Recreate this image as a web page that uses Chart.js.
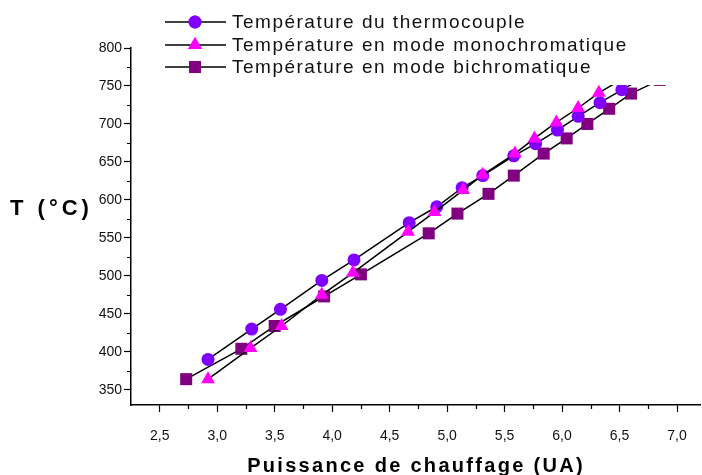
<!DOCTYPE html>
<html>
<head>
<meta charset="utf-8">
<script src="https://cdn.jsdelivr.net/npm/chart.js@4.4.1/dist/chart.umd.min.js"></script>
<style>
    html, body { margin: 0; padding: 0; background: #ffffff; }
    #wrap { width: 702px; height: 475px; }
</style>
</head>
<body>
<div id="wrap"><canvas id="tempChart" width="702" height="475"></canvas></div>
<script>
/* ============================
   Data
============================ */
const seriesLabels = [
    'Température du thermocouple',
    'Température en mode monochromatique',
    'Température en mode bichromatique'
];

// thermocouple (circles) - last point hidden behind the legend
const thermoX = [2.92, 3.30, 3.55, 3.91, 4.19, 4.67, 4.91, 5.13, 5.31, 5.58, 5.77, 5.96, 6.14, 6.33, 6.52, 6.72];
const thermoY = [390, 430, 456, 494, 521, 570, 591, 616, 632, 658, 674, 692, 710, 728, 745, 762];

// monochromatic (triangles)
const monoX = [2.92, 3.29, 3.56, 3.91, 4.18, 4.66, 4.89, 5.14, 5.31, 5.59, 5.76, 5.95, 6.14, 6.32, 6.50];
const monoY = [364, 405, 434, 475, 504, 558, 584, 613, 633, 661, 681, 702, 721, 741, 757];

// bichromatic (squares)
const biX = [2.73, 3.21, 3.50, 3.93, 4.25, 4.84, 5.09, 5.36, 5.58, 5.84, 6.04, 6.22, 6.41, 6.60, 6.85];
const biY = [364, 404, 434, 473, 502, 556, 582, 608, 632, 661, 681, 700, 720, 740, 758];

// axis ticks
const xTicks = [2.5, 3.0, 3.5, 4.0, 4.5, 5.0, 5.5, 6.0, 6.5, 7.0];
const xMinorTicks = [2.75, 3.25, 3.75, 4.25, 4.75, 5.25, 5.75, 6.25, 6.75];
const yTicks = [350, 400, 450, 500, 550, 600, 650, 700, 750, 800];
const yMinorTicks = [375, 425, 475, 525, 575, 625, 675, 725, 775];

/* ============================
   Styles
============================ */
const seriesColors = ['#8000ff', '#ff00ff', '#800080'];
const seriesShapes = ['circle', 'triangle', 'rect'];
const seriesRadius = [6.5, 8, 8.5];
const fontFamily = '"Liberation Sans", Arial, sans-serif';

function toPoints(xs, ys) {
    return xs.map((x, i) => ({ x: x, y: ys[i] }));
}

/* ============================
   Plugins: minor ticks, titles, legend
============================ */
const minorTicks = {
    id: 'minorTicks',
    afterDraw(chart) {
        const ctx = chart.ctx;
        const xs = chart.scales.x;
        const ys = chart.scales.y;
        ctx.save();
        ctx.strokeStyle = '#000';
        ctx.lineWidth = 1.2;
        ctx.beginPath();
        xMinorTicks.forEach(v => {
            const px = Math.round(xs.getPixelForValue(v)) + 0.5;
            ctx.moveTo(px, xs.top);
            ctx.lineTo(px, xs.top + 4);
        });
        yMinorTicks.forEach(v => {
            const py = Math.round(ys.getPixelForValue(v)) + 0.5;
            ctx.moveTo(ys.right, py);
            ctx.lineTo(ys.right - 4, py);
        });
        ctx.stroke();
        ctx.restore();
    }
};

const axisTitles = {
    id: 'axisTitles',
    afterDraw(chart) {
        const ctx = chart.ctx;
        ctx.save();
        ctx.fillStyle = '#000';
        ctx.font = 'bold 20px ' + fontFamily;
        ctx.letterSpacing = '2.3px';
        ctx.textAlign = 'center';
        ctx.textBaseline = 'middle';
        ctx.fillText('Puissance de chauffage (UA)', 416, 466);
        ctx.font = 'bold 22px ' + fontFamily;
        ctx.letterSpacing = '4px';
        ctx.textAlign = 'left';
        ctx.fillText('T (°C)', 10, 209);
        ctx.restore();
    }
};

const overlayLegend = {
    id: 'overlayLegend',
    afterDatasetsDraw(chart) {
        const ctx = chart.ctx;
        ctx.save();
        // white legend box hides the tops of the lines, as in the figure
        ctx.fillStyle = '#ffffff';
        ctx.fillRect(150, 0, 540, 85);
        const rowsY = [22, 45, 67];
        seriesLabels.forEach((label, i) => {
            const y = rowsY[i];
            ctx.strokeStyle = '#000';
            ctx.lineWidth = 1.5;
            ctx.beginPath();
            ctx.moveTo(165, y);
            ctx.lineTo(226, y);
            ctx.stroke();
            ctx.fillStyle = seriesColors[i];
            Chart.helpers.drawPoint(ctx, {
                pointStyle: seriesShapes[i],
                radius: seriesRadius[i],
                rotation: 0,
                borderWidth: 0
            }, 195, y);
            ctx.fill();
            ctx.fillStyle = '#111';
            ctx.font = '19px ' + fontFamily;
            ctx.letterSpacing = '1.5px';
            ctx.textAlign = 'left';
            ctx.textBaseline = 'middle';
            ctx.fillText(label, 232, y + 1);
        });
        ctx.restore();
    }
};

/* ============================
   Build chart
============================ */
const allX = [thermoX, monoX, biX];
const allY = [thermoY, monoY, biY];
const drawOrder = [1, 0, 2];

const datasets = seriesLabels.map((label, i) => ({
    label: label,
    data: toPoints(allX[i], allY[i]),
    showLine: true,
    borderColor: '#000000',
    borderWidth: 1.5,
    pointStyle: seriesShapes[i],
    pointRadius: seriesRadius[i],
    pointHoverRadius: seriesRadius[i],
    pointBackgroundColor: seriesColors[i],
    pointBorderColor: seriesColors[i],
    pointBorderWidth: 0,
    order: drawOrder[i]
}));

const tickFont = { family: fontFamily, size: 14 };

new Chart(document.getElementById('tempChart').getContext('2d'), {
    type: 'scatter',
    data: { datasets: datasets },
    options: {
        responsive: false,
        animation: false,
        layout: {
            autoPadding: false,
            padding: { top: 48, right: 2, left: 0, bottom: 0 }
        },
        plugins: {
            legend: { display: false },
            tooltip: { enabled: false }
        },
        scales: {
            x: {
                type: 'linear',
                min: 2.25,
                max: 7.2,
                afterBuildTicks: scale => {
                    scale.ticks = xTicks.map(v => ({ value: v }));
                },
                afterFit: scale => {
                    scale.height = 70;
                    scale.paddingLeft = 0;
                    scale.paddingRight = 0;
                },
                grid: {
                    drawOnChartArea: false,
                    drawTicks: true,
                    tickLength: 7,
                    tickColor: '#000',
                    tickWidth: 1.2
                },
                border: { color: '#000', width: 1.5 },
                ticks: {
                    color: '#111',
                    font: tickFont,
                    padding: 16,
                    maxRotation: 0,
                    autoSkip: false,
                    callback: v => v.toFixed(1).replace('.', ',')
                }
            },
            y: {
                type: 'linear',
                min: 330,
                max: 800,
                afterBuildTicks: scale => {
                    scale.ticks = yTicks.map(v => ({ value: v }));
                },
                afterFit: scale => {
                    scale.width = 131;
                    scale.paddingTop = 0;
                    scale.paddingBottom = 0;
                },
                grid: {
                    drawOnChartArea: false,
                    drawTicks: true,
                    tickLength: 7,
                    tickColor: '#000',
                    tickWidth: 1.2
                },
                border: { color: '#000', width: 1.5 },
                ticks: {
                    color: '#111',
                    font: tickFont,
                    padding: 2,
                    autoSkip: false
                }
            }
        }
    },
    plugins: [minorTicks, overlayLegend, axisTitles]
});
</script>
</body>
</html>
